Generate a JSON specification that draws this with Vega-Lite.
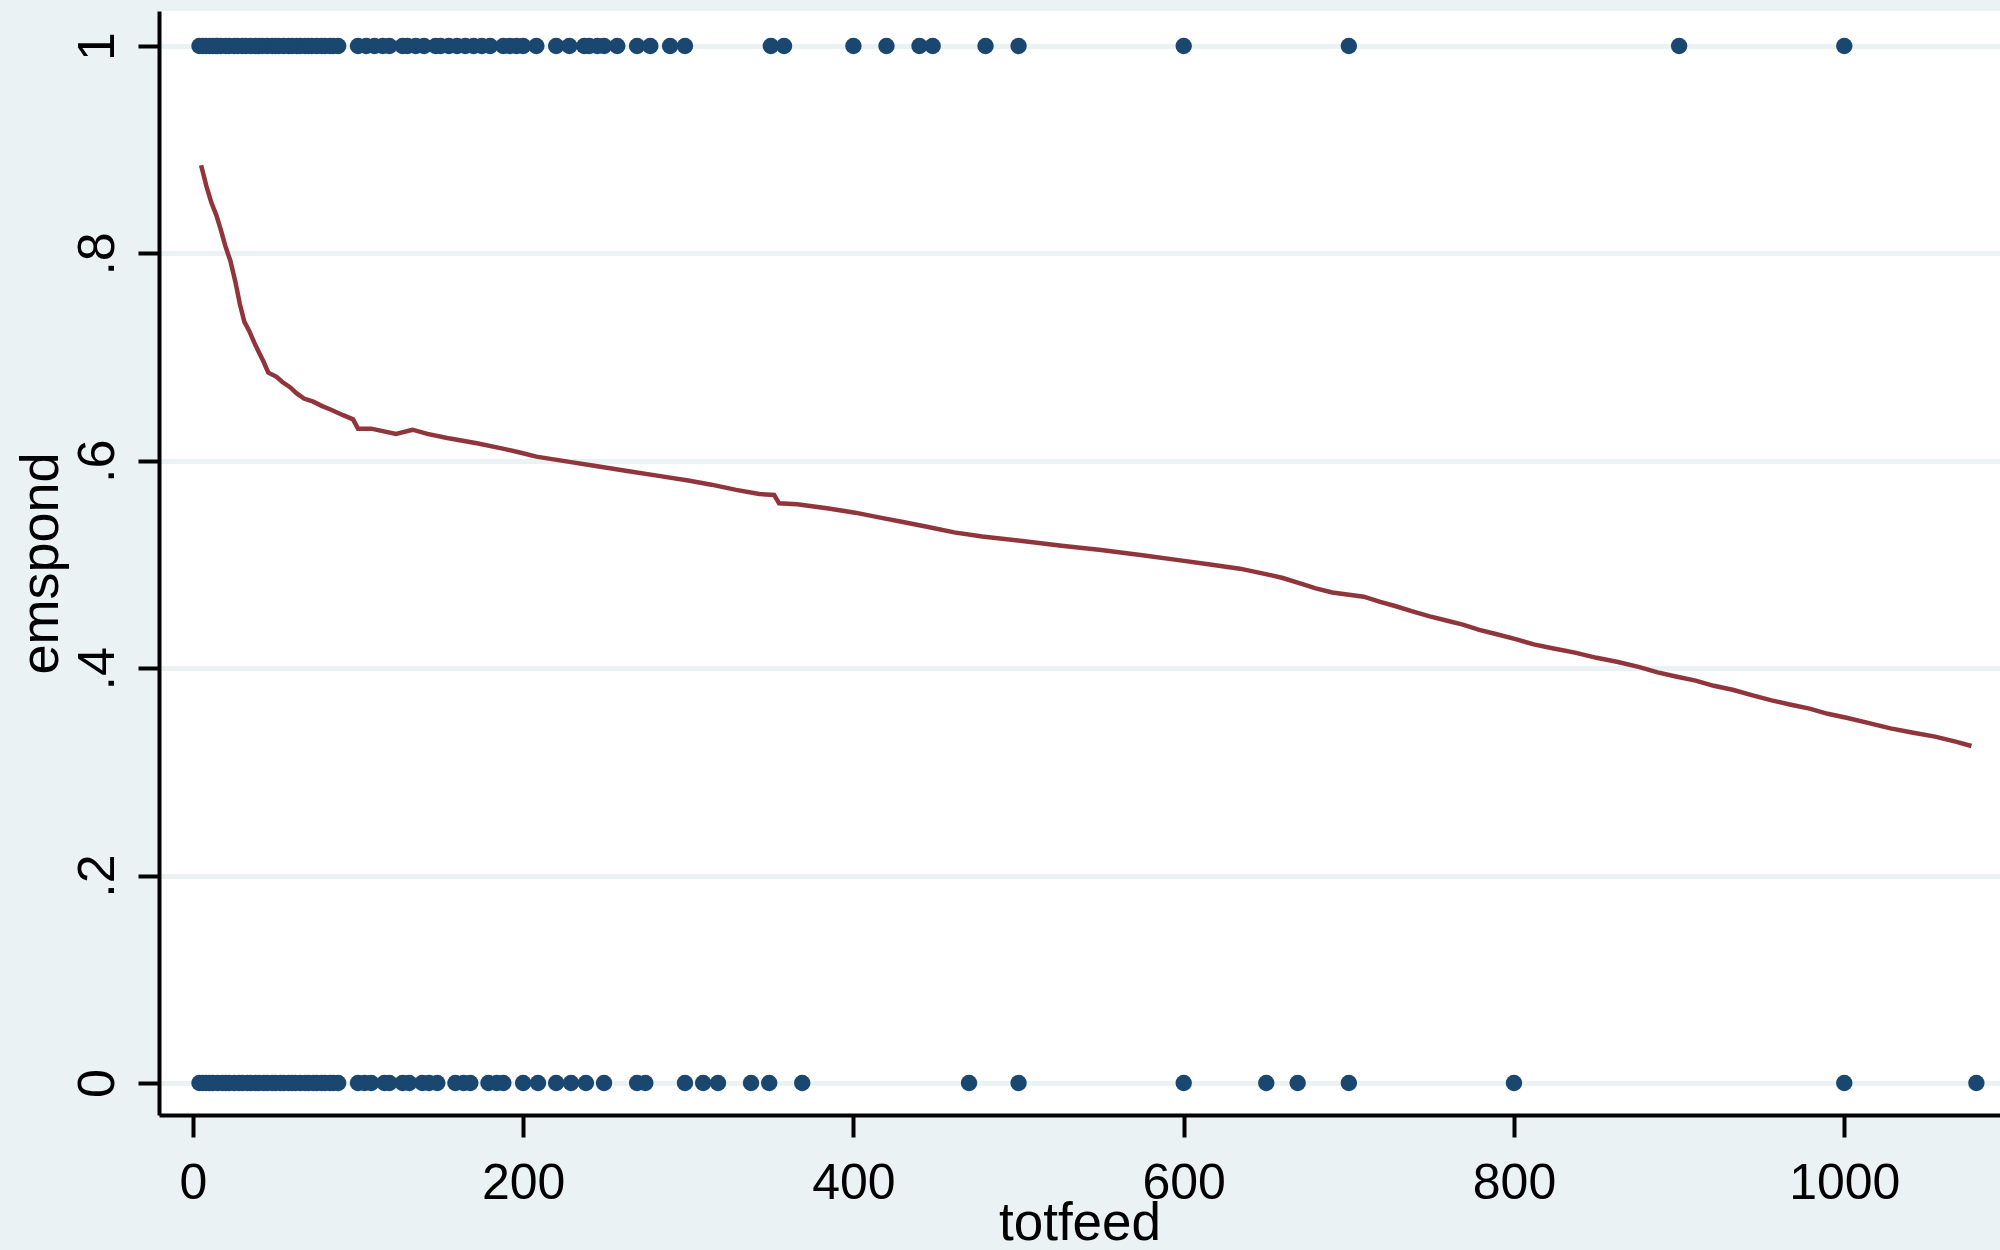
{
  "$schema": "https://vega.github.io/schema/vega-lite/v6.json",
  "autosize": "none",
  "width": 1841,
  "height": 1104,
  "padding": {"left": 159, "top": 11, "right": 0, "bottom": 135},
  "background": "#EAF2F3",
  "config": {
    "view": {"stroke": null, "fill": "#FFFFFF"},
    "font": "Liberation Sans"
  },
  "datasets": {
    "pts": [
      {"totfeed": 4, "emspond": 1}, {"totfeed": 6, "emspond": 1}, {"totfeed": 8, "emspond": 1}, {"totfeed": 10, "emspond": 1},
      {"totfeed": 12, "emspond": 1}, {"totfeed": 14, "emspond": 1}, {"totfeed": 15, "emspond": 1}, {"totfeed": 17, "emspond": 1},
      {"totfeed": 20, "emspond": 1}, {"totfeed": 22, "emspond": 1}, {"totfeed": 25, "emspond": 1}, {"totfeed": 27, "emspond": 1},
      {"totfeed": 30, "emspond": 1}, {"totfeed": 32, "emspond": 1}, {"totfeed": 35, "emspond": 1}, {"totfeed": 38, "emspond": 1},
      {"totfeed": 40, "emspond": 1}, {"totfeed": 42, "emspond": 1}, {"totfeed": 45, "emspond": 1}, {"totfeed": 48, "emspond": 1},
      {"totfeed": 50, "emspond": 1}, {"totfeed": 52, "emspond": 1}, {"totfeed": 55, "emspond": 1}, {"totfeed": 58, "emspond": 1},
      {"totfeed": 60, "emspond": 1}, {"totfeed": 63, "emspond": 1}, {"totfeed": 65, "emspond": 1}, {"totfeed": 68, "emspond": 1},
      {"totfeed": 70, "emspond": 1}, {"totfeed": 72, "emspond": 1}, {"totfeed": 75, "emspond": 1}, {"totfeed": 78, "emspond": 1},
      {"totfeed": 80, "emspond": 1}, {"totfeed": 83, "emspond": 1}, {"totfeed": 85, "emspond": 1}, {"totfeed": 88, "emspond": 1},
      {"totfeed": 100, "emspond": 1}, {"totfeed": 105, "emspond": 1}, {"totfeed": 110, "emspond": 1}, {"totfeed": 115, "emspond": 1},
      {"totfeed": 119, "emspond": 1}, {"totfeed": 127, "emspond": 1}, {"totfeed": 130, "emspond": 1}, {"totfeed": 135, "emspond": 1},
      {"totfeed": 140, "emspond": 1}, {"totfeed": 147, "emspond": 1}, {"totfeed": 150, "emspond": 1}, {"totfeed": 155, "emspond": 1},
      {"totfeed": 160, "emspond": 1}, {"totfeed": 165, "emspond": 1}, {"totfeed": 170, "emspond": 1}, {"totfeed": 175, "emspond": 1},
      {"totfeed": 180, "emspond": 1}, {"totfeed": 188, "emspond": 1}, {"totfeed": 192, "emspond": 1}, {"totfeed": 196, "emspond": 1},
      {"totfeed": 200, "emspond": 1}, {"totfeed": 208, "emspond": 1}, {"totfeed": 220, "emspond": 1}, {"totfeed": 228, "emspond": 1},
      {"totfeed": 237, "emspond": 1}, {"totfeed": 240, "emspond": 1}, {"totfeed": 245, "emspond": 1}, {"totfeed": 249, "emspond": 1},
      {"totfeed": 257, "emspond": 1}, {"totfeed": 269, "emspond": 1}, {"totfeed": 277, "emspond": 1}, {"totfeed": 289, "emspond": 1},
      {"totfeed": 298, "emspond": 1}, {"totfeed": 350, "emspond": 1}, {"totfeed": 358, "emspond": 1}, {"totfeed": 400, "emspond": 1},
      {"totfeed": 420, "emspond": 1}, {"totfeed": 440, "emspond": 1}, {"totfeed": 448, "emspond": 1}, {"totfeed": 480, "emspond": 1},
      {"totfeed": 500, "emspond": 1}, {"totfeed": 600, "emspond": 1}, {"totfeed": 700, "emspond": 1}, {"totfeed": 900, "emspond": 1},
      {"totfeed": 1000, "emspond": 1},
      {"totfeed": 4, "emspond": 0}, {"totfeed": 6, "emspond": 0}, {"totfeed": 8, "emspond": 0}, {"totfeed": 10, "emspond": 0},
      {"totfeed": 12, "emspond": 0}, {"totfeed": 15, "emspond": 0}, {"totfeed": 18, "emspond": 0}, {"totfeed": 20, "emspond": 0},
      {"totfeed": 22, "emspond": 0}, {"totfeed": 25, "emspond": 0}, {"totfeed": 28, "emspond": 0}, {"totfeed": 30, "emspond": 0},
      {"totfeed": 33, "emspond": 0}, {"totfeed": 35, "emspond": 0}, {"totfeed": 38, "emspond": 0}, {"totfeed": 40, "emspond": 0},
      {"totfeed": 43, "emspond": 0}, {"totfeed": 45, "emspond": 0}, {"totfeed": 48, "emspond": 0}, {"totfeed": 50, "emspond": 0},
      {"totfeed": 53, "emspond": 0}, {"totfeed": 55, "emspond": 0}, {"totfeed": 58, "emspond": 0}, {"totfeed": 60, "emspond": 0},
      {"totfeed": 62, "emspond": 0}, {"totfeed": 65, "emspond": 0}, {"totfeed": 68, "emspond": 0}, {"totfeed": 70, "emspond": 0},
      {"totfeed": 73, "emspond": 0}, {"totfeed": 75, "emspond": 0}, {"totfeed": 78, "emspond": 0}, {"totfeed": 80, "emspond": 0},
      {"totfeed": 83, "emspond": 0}, {"totfeed": 85, "emspond": 0}, {"totfeed": 88, "emspond": 0},
      {"totfeed": 100, "emspond": 0}, {"totfeed": 104, "emspond": 0}, {"totfeed": 108, "emspond": 0}, {"totfeed": 116, "emspond": 0},
      {"totfeed": 119, "emspond": 0}, {"totfeed": 127, "emspond": 0}, {"totfeed": 131, "emspond": 0}, {"totfeed": 139, "emspond": 0},
      {"totfeed": 143, "emspond": 0}, {"totfeed": 148, "emspond": 0}, {"totfeed": 159, "emspond": 0}, {"totfeed": 164, "emspond": 0},
      {"totfeed": 168, "emspond": 0}, {"totfeed": 179, "emspond": 0}, {"totfeed": 184, "emspond": 0}, {"totfeed": 188, "emspond": 0},
      {"totfeed": 200, "emspond": 0}, {"totfeed": 209, "emspond": 0}, {"totfeed": 220, "emspond": 0}, {"totfeed": 229, "emspond": 0},
      {"totfeed": 238, "emspond": 0}, {"totfeed": 249, "emspond": 0}, {"totfeed": 269, "emspond": 0}, {"totfeed": 274, "emspond": 0},
      {"totfeed": 298, "emspond": 0}, {"totfeed": 309, "emspond": 0}, {"totfeed": 318, "emspond": 0}, {"totfeed": 338, "emspond": 0},
      {"totfeed": 349, "emspond": 0}, {"totfeed": 369, "emspond": 0}, {"totfeed": 470, "emspond": 0}, {"totfeed": 500, "emspond": 0},
      {"totfeed": 600, "emspond": 0}, {"totfeed": 650, "emspond": 0}, {"totfeed": 669, "emspond": 0}, {"totfeed": 700, "emspond": 0},
      {"totfeed": 800, "emspond": 0}, {"totfeed": 1000, "emspond": 0}, {"totfeed": 1080, "emspond": 0}
    ],
    "fit": [
      {"totfeed": 5, "smooth": 0.885}, {"totfeed": 8.2, "smooth": 0.865}, {"totfeed": 11.2, "smooth": 0.849},
      {"totfeed": 14.2, "smooth": 0.837}, {"totfeed": 16.9, "smooth": 0.823}, {"totfeed": 19.7, "smooth": 0.807},
      {"totfeed": 22.7, "smooth": 0.793}, {"totfeed": 25.7, "smooth": 0.773}, {"totfeed": 28.5, "smooth": 0.751},
      {"totfeed": 31.2, "smooth": 0.734}, {"totfeed": 34.2, "smooth": 0.725}, {"totfeed": 37.2, "smooth": 0.714},
      {"totfeed": 40.2, "smooth": 0.704}, {"totfeed": 42.7, "smooth": 0.696}, {"totfeed": 45.7, "smooth": 0.685},
      {"totfeed": 50.7, "smooth": 0.681}, {"totfeed": 54.2, "smooth": 0.676}, {"totfeed": 58.8, "smooth": 0.671},
      {"totfeed": 62.9, "smooth": 0.665}, {"totfeed": 67.3, "smooth": 0.66}, {"totfeed": 72.9, "smooth": 0.657},
      {"totfeed": 78, "smooth": 0.653}, {"totfeed": 84, "smooth": 0.649}, {"totfeed": 91, "smooth": 0.644},
      {"totfeed": 97, "smooth": 0.64}, {"totfeed": 100, "smooth": 0.631}, {"totfeed": 108, "smooth": 0.631},
      {"totfeed": 123, "smooth": 0.626}, {"totfeed": 133, "smooth": 0.63}, {"totfeed": 142, "smooth": 0.626},
      {"totfeed": 154, "smooth": 0.622}, {"totfeed": 172, "smooth": 0.617}, {"totfeed": 187, "smooth": 0.612},
      {"totfeed": 198, "smooth": 0.608}, {"totfeed": 208, "smooth": 0.604}, {"totfeed": 228, "smooth": 0.599},
      {"totfeed": 244, "smooth": 0.595}, {"totfeed": 264, "smooth": 0.59}, {"totfeed": 284, "smooth": 0.585},
      {"totfeed": 300, "smooth": 0.581}, {"totfeed": 314, "smooth": 0.577}, {"totfeed": 329, "smooth": 0.572},
      {"totfeed": 343, "smooth": 0.568}, {"totfeed": 352, "smooth": 0.567}, {"totfeed": 355, "smooth": 0.559},
      {"totfeed": 366, "smooth": 0.558}, {"totfeed": 385, "smooth": 0.554}, {"totfeed": 401, "smooth": 0.55},
      {"totfeed": 417, "smooth": 0.545}, {"totfeed": 430, "smooth": 0.541}, {"totfeed": 446, "smooth": 0.536},
      {"totfeed": 461, "smooth": 0.531}, {"totfeed": 478, "smooth": 0.527}, {"totfeed": 501, "smooth": 0.523},
      {"totfeed": 526, "smooth": 0.518}, {"totfeed": 550, "smooth": 0.514}, {"totfeed": 575, "smooth": 0.509},
      {"totfeed": 598, "smooth": 0.504}, {"totfeed": 616, "smooth": 0.5}, {"totfeed": 634, "smooth": 0.496},
      {"totfeed": 649, "smooth": 0.491}, {"totfeed": 660, "smooth": 0.487}, {"totfeed": 670, "smooth": 0.482},
      {"totfeed": 680, "smooth": 0.477}, {"totfeed": 690, "smooth": 0.473}, {"totfeed": 709, "smooth": 0.469},
      {"totfeed": 719, "smooth": 0.464}, {"totfeed": 728, "smooth": 0.46}, {"totfeed": 738, "smooth": 0.455},
      {"totfeed": 749, "smooth": 0.45}, {"totfeed": 759, "smooth": 0.446}, {"totfeed": 769, "smooth": 0.442},
      {"totfeed": 779, "smooth": 0.437}, {"totfeed": 789, "smooth": 0.433}, {"totfeed": 801, "smooth": 0.428},
      {"totfeed": 812, "smooth": 0.423}, {"totfeed": 824, "smooth": 0.419}, {"totfeed": 837, "smooth": 0.415},
      {"totfeed": 850, "smooth": 0.41}, {"totfeed": 863, "smooth": 0.406}, {"totfeed": 876, "smooth": 0.401},
      {"totfeed": 887, "smooth": 0.396}, {"totfeed": 898, "smooth": 0.392}, {"totfeed": 910, "smooth": 0.388},
      {"totfeed": 921, "smooth": 0.383}, {"totfeed": 933, "smooth": 0.379}, {"totfeed": 944, "smooth": 0.374},
      {"totfeed": 956, "smooth": 0.369}, {"totfeed": 967, "smooth": 0.365}, {"totfeed": 979, "smooth": 0.361},
      {"totfeed": 990, "smooth": 0.356}, {"totfeed": 1002, "smooth": 0.352}, {"totfeed": 1015, "smooth": 0.347},
      {"totfeed": 1028, "smooth": 0.342}, {"totfeed": 1041, "smooth": 0.338}, {"totfeed": 1055, "smooth": 0.334},
      {"totfeed": 1068, "smooth": 0.329}, {"totfeed": 1077, "smooth": 0.325}
    ]
  },
  "encoding": {
    "x": {
      "field": "totfeed",
      "type": "quantitative",
      "scale": {"domain": [-20.5, 1094.3], "nice": false, "zero": false},
      "axis": {
        "title": "totfeed",
        "values": [0, 200, 400, 600, 800, 1000],
        "format": "d",
        "grid": false,
        "domainColor": "#000000",
        "domainWidth": 4,
        "tickColor": "#000000",
        "tickWidth": 4,
        "tickSize": 22,
        "labelFont": "Liberation Sans",
        "labelFontSize": 50,
        "labelColor": "#000000",
        "labelBaseline": "alphabetic",
        "labelPadding": 61,
        "labelFlush": false,
        "titleFont": "Liberation Sans",
        "titleFontSize": 53,
        "titleFontWeight": "normal",
        "titleColor": "#000000",
        "titleBaseline": "alphabetic",
        "titleY": 124
      }
    },
    "y": {
      "type": "quantitative",
      "scale": {"domain": [-0.0309, 1.0338], "nice": false, "zero": false},
      "axis": {
        "title": "emspond",
        "values": [0, 0.2, 0.4, 0.6, 0.8, 1],
        "labelExpr": "datum.value == 0 ? '0' : datum.value == 1 ? '1' : '.' + format(datum.value * 10, 'd')",
        "grid": true,
        "gridColor": "#EAF2F3",
        "gridWidth": 5,
        "domainColor": "#000000",
        "domainWidth": 4,
        "tickColor": "#000000",
        "tickWidth": 4,
        "tickSize": 21,
        "labelFont": "Liberation Sans",
        "labelFontSize": 52,
        "labelColor": "#000000",
        "labelAngle": -90,
        "labelAlign": "center",
        "labelBaseline": "alphabetic",
        "labelPadding": 25,
        "labelFlush": false,
        "titleFont": "Liberation Sans",
        "titleFontSize": 54,
        "titleFontWeight": "normal",
        "titleColor": "#000000",
        "titleAngle": -90,
        "titleAlign": "center",
        "titleBaseline": "alphabetic",
        "titleX": -102
      }
    }
  },
  "layer": [
    {
      "data": {"name": "pts"},
      "mark": {"type": "circle", "size": 270, "opacity": 1, "color": "#1A476F"},
      "encoding": {"y": {"field": "emspond", "type": "quantitative"}}
    },
    {
      "data": {"name": "fit"},
      "mark": {"type": "line", "color": "#90353B", "strokeWidth": 4.5, "interpolate": "linear"},
      "encoding": {"y": {"field": "smooth", "type": "quantitative"}}
    }
  ]
}
